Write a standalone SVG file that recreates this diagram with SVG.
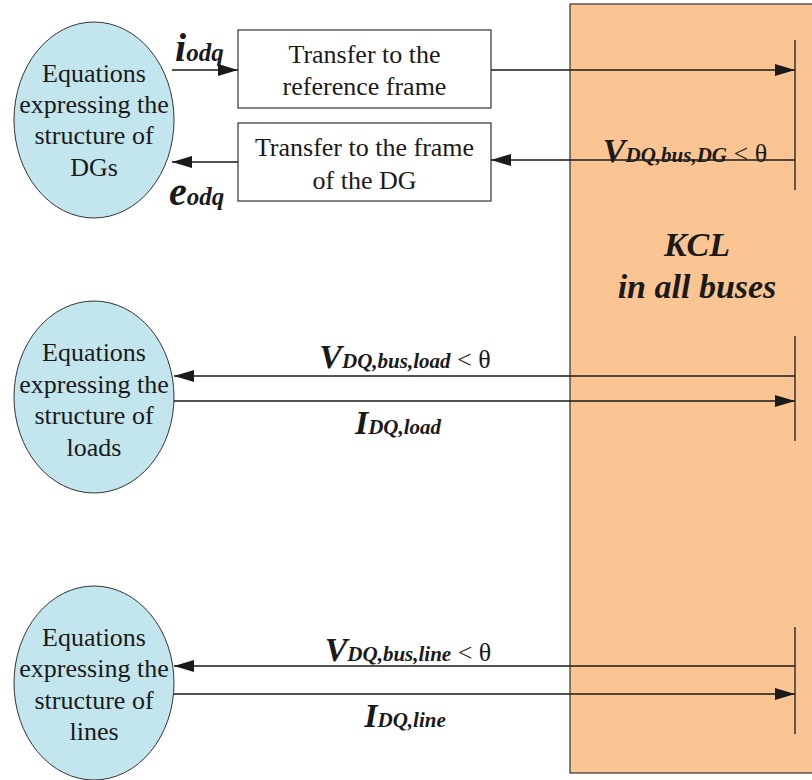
<svg xmlns="http://www.w3.org/2000/svg" width="812" height="780" viewBox="0 0 812 780">
<defs>
<marker id="ahb" viewBox="0 0 20 12" refX="20" refY="6" markerWidth="20" markerHeight="12" markerUnits="userSpaceOnUse" orient="auto"><path d="M0,0 L20,6 L0,12 z" fill="#1a1a1a"/></marker>
</defs>
<style>
.ell{fill:#c3e6ee;stroke:#333;stroke-width:1}
.box{fill:#fff;stroke:#333;stroke-width:1.2}
.t{font-family:"Liberation Serif","Times New Roman",serif;font-size:26px;fill:#1a1a1a;text-anchor:middle}
.lab{font-family:"Liberation Serif","Times New Roman",serif;font-weight:bold;font-style:italic;fill:#1a1a1a}
.big{font-size:34px}
.sub{font-size:21px}
.th{font-family:"Liberation Serif",serif;font-weight:normal;font-style:normal;font-size:26px}
.ln{stroke:#1a1a1a;stroke-width:1.3;fill:none}
.bus{stroke:#333;stroke-width:1.5}
</style>
<g id="kcl">
<rect x="570" y="4" width="250" height="769" fill="#fbc593" stroke="#333" stroke-width="1.2"/>
<text x="697" y="256" class="lab" font-size="34" text-anchor="middle">KCL</text>
<text x="697" y="298" class="lab" font-size="34" text-anchor="middle">in all buses</text>
<line x1="795" y1="40" x2="795" y2="190" class="bus"/>
<line x1="795" y1="336" x2="795" y2="441" class="bus"/>
<line x1="795" y1="627" x2="795" y2="734" class="bus"/>
</g>
<g id="dg">
<ellipse cx="94" cy="120" rx="80" ry="98" class="ell"/>
<text class="t"><tspan x="94" y="82">Equations</tspan><tspan x="94" y="113">expressing the</tspan><tspan x="94" y="144">structure of</tspan><tspan x="94" y="176">DGs</tspan></text>
</g>
<g id="box1">
<rect x="238" y="30" width="253" height="78" class="box"/>
<text class="t"><tspan x="364.5" y="63">Transfer to the</tspan><tspan x="364.5" y="95">reference frame</tspan></text>
</g>
<g id="box2">
<rect x="238" y="123" width="253" height="78" class="box"/>
<text class="t"><tspan x="364.5" y="156">Transfer to the frame</tspan><tspan x="364.5" y="189">of the DG</tspan></text>
</g>
<g id="load">
<ellipse cx="94" cy="397" rx="80" ry="96" class="ell"/>
<text class="t"><tspan x="94" y="361">Equations</tspan><tspan x="94" y="393">expressing the</tspan><tspan x="94" y="424">structure of</tspan><tspan x="94" y="456">loads</tspan></text>
</g>
<g id="line">
<ellipse cx="94" cy="683" rx="80" ry="97" class="ell"/>
<text class="t"><tspan x="94" y="646">Equations</tspan><tspan x="94" y="677">expressing the</tspan><tspan x="94" y="709">structure of</tspan><tspan x="94" y="740">lines</tspan></text>
</g>
<g id="connectors">
<line x1="172" y1="70" x2="238" y2="70" class="ln" marker-end="url(#ahb)"/>
<line x1="491" y1="70" x2="795" y2="70" class="ln" marker-end="url(#ahb)"/>
<line x1="795" y1="160" x2="491" y2="160" class="ln" marker-end="url(#ahb)"/>
<line x1="238" y1="162" x2="172" y2="162" class="ln" marker-end="url(#ahb)"/>
<line x1="795" y1="376" x2="174" y2="376" class="ln" marker-end="url(#ahb)"/>
<line x1="174" y1="401" x2="795" y2="401" class="ln" marker-end="url(#ahb)"/>
<line x1="795" y1="666" x2="174" y2="666" class="ln" marker-end="url(#ahb)"/>
<line x1="174" y1="694" x2="795" y2="694" class="ln" marker-end="url(#ahb)"/>
</g>
<g id="labels">
<text x="175" y="61" class="lab"><tspan font-size="40">i</tspan><tspan font-size="25">odq</tspan></text>
<text x="169" y="205" class="lab"><tspan font-size="40">e</tspan><tspan font-size="25">odq</tspan></text>
<text x="685" y="162" class="lab" text-anchor="middle"><tspan class="big">V</tspan><tspan class="sub">DQ,bus,DG</tspan><tspan class="th"> &lt; θ</tspan></text>
<text x="405" y="368" class="lab" text-anchor="middle"><tspan class="big">V</tspan><tspan class="sub">DQ,bus,load</tspan><tspan class="th"> &lt; θ</tspan></text>
<text x="398" y="434" class="lab" text-anchor="middle"><tspan class="big">I</tspan><tspan class="sub">DQ,load</tspan></text>
<text x="408" y="661" class="lab" text-anchor="middle"><tspan class="big">V</tspan><tspan class="sub">DQ,bus,line</tspan><tspan class="th"> &lt; θ</tspan></text>
<text x="405" y="727" class="lab" text-anchor="middle"><tspan class="big">I</tspan><tspan class="sub">DQ,line</tspan></text>
</g>
</svg>
